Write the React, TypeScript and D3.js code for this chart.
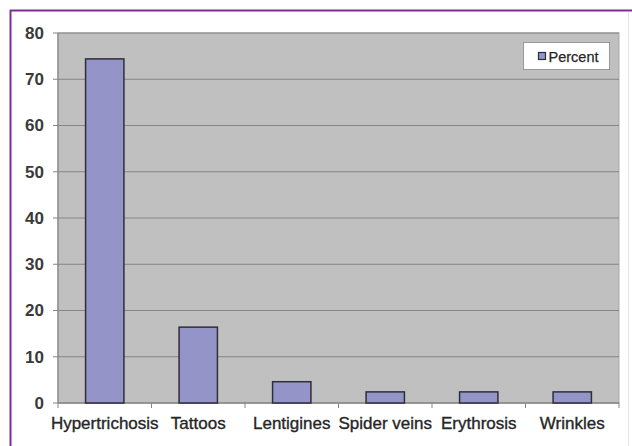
import React from "react";
import * as d3 from "d3";

const categories = ["Hypertrichosis", "Tattoos", "Lentigines", "Spider veins", "Erythrosis", "Wrinkles"];
const percentValues = [74.4, 16.4, 4.6, 2.4, 2.4, 2.4];
const yTicks = [0, 10, 20, 30, 40, 50, 60, 70, 80];
const seriesName = "Percent";

export default function App() {
  const W = 632, H = 446;
  const left = 58, right = 619, top = 33, bottom = 403;
  const x = d3.scaleBand<string>().domain(categories).range([left, right]).paddingInner(0.59).paddingOuter(0.295);
  const xStep = d3.scaleBand<string>().domain(categories).range([left, right]).padding(0);
  const y = d3.scaleLinear().domain([0, 80]).range([bottom, top]);
  const font = "Arial, 'Liberation Sans', Helvetica, sans-serif";
  return (
    <svg width={W} height={H} style={{ position: "absolute", left: 0, top: 0, background: "#fff" }}>
      <rect x={0} y={0} width={W} height={H} fill="#fff" />
      <line x1={10.5} y1={10} x2={10.5} y2={H} stroke="#7b2d9a" strokeWidth={2} />
      <line x1={10} y1={10.5} x2={W} y2={10.5} stroke="#7b2d9a" strokeWidth={2} />
      <line x1={628.5} y1={12} x2={628.5} y2={H} stroke="#e6e6ea" strokeWidth={1} />
      <rect x={left} y={top} width={right - left} height={bottom - top} fill="#c0c0c0" stroke="#a8a8a8" strokeWidth={1} />
      {yTicks.map((t) => (
        <g key={t}>
          {t > 0 && <line x1={left} x2={right} y1={y(t)} y2={y(t)} stroke="#858585" strokeWidth={1.2} />}
          <line x1={left - 5} x2={left} y1={y(t)} y2={y(t)} stroke="#858585" strokeWidth={1} />
          <text x={44} y={y(t)} dy="0.35em" textAnchor="end" fontFamily={font} fontSize={17} fontWeight="bold" fill="#3a3a3a">{t}</text>
        </g>
      ))}
      <line x1={left} x2={left} y1={top} y2={bottom} stroke="#858585" strokeWidth={1.2} />
      <line x1={left} x2={right} y1={bottom} y2={bottom} stroke="#858585" strokeWidth={1.5} />
      {categories.map((c, i) => (
        <g key={c}>
          <line x1={(xStep(c) as number)} x2={(xStep(c) as number)} y1={bottom} y2={bottom + 5} stroke="#858585" />
          <rect x={x(c)} y={y(percentValues[i])} width={x.bandwidth()} height={bottom - y(percentValues[i])} fill="#9594c9" stroke="#2e2e38" strokeWidth={1.5} />
          <text x={(xStep(c) as number) + xStep.bandwidth() / 2} y={423} dy="0.35em" textAnchor="middle" fontFamily={font} fontSize={17} fill="#262626" stroke="#262626" strokeWidth={0.35}>{c}</text>
        </g>
      ))}
      <line x1={right} x2={right} y1={bottom} y2={bottom + 5} stroke="#858585" />
      <rect x={523.5} y={42.5} width={86} height={27} fill="#fff" stroke="#999" strokeWidth={1} />
      <rect x={538.5} y={52.5} width={7} height={7} fill="#9594c9" stroke="#2e2e38" strokeWidth={1.2} />
      <text x={548.5} y={56.5} dy="0.35em" fontFamily={font} fontSize={14.5} fill="#262626" stroke="#262626" strokeWidth={0.25}>{seriesName}</text>
    </svg>
  );
}
